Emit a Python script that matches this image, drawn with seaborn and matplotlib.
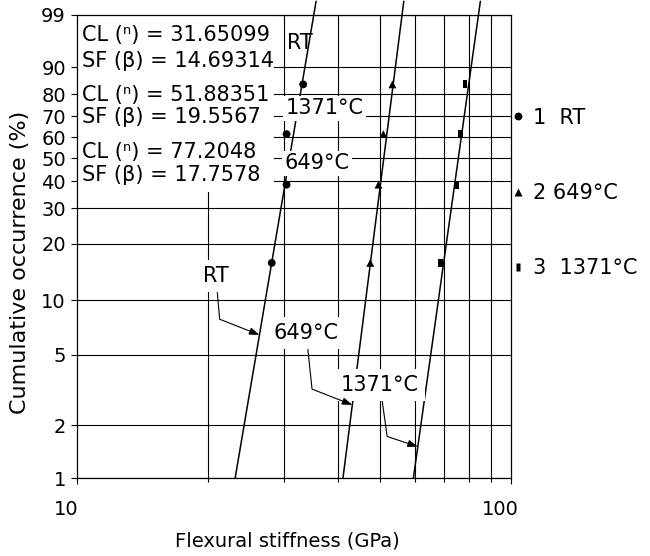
import numpy as np
import pandas as pd
import seaborn as sns
import matplotlib.pyplot as plt
from matplotlib.patches import Rectangle
from matplotlib.transforms import ScaledTranslation

sns.set_style('ticks')
plt.rcParams['font.family'] = ['DejaVu Sans']
plt.rcParams['text.color'] = 'black'
plt.rcParams['axes.labelcolor'] = 'black'

# Weibull fit parameters printed on the chart
legend_labels = ['1  RT', '2 649°C', '3  1371°C']
char_life = [31.65099, 51.88351, 77.2048]
shape_factor = [14.69314, 19.5567, 17.7578]

# measured points (median ranks, %)
ranks = [15.9, 38.6, 61.4, 84.1]
stiff_rt = [28.1, 30.4, 30.4, 33.2]
stiff_649 = [47.4, 49.5, 50.8, 53.3]
stiff_1371 = [68.7, 75.1, 76.4, 78.4]

# fitted lines are drawn between these occurrences
fit_range = [1, 99.6]

y_ticks = [1, 2, 5, 10, 20, 30, 40, 50, 60, 70, 80, 90, 99]
x_ticks = [10, 100]
x_minor = [20, 30, 40, 50, 60, 70, 80, 90]

# callout labels and where their arrows hit the fit line (% occurrence)
callouts = ['RT', '649°C', '1371°C']
callout_F = [6.46, 2.61, 1.51]

FS = 15


def weib(p):
  p = np.clip(np.asarray(p, dtype=float) / 100, 1e-9, 1 - 1e-9)
  return np.log(-np.log(1 - p))


def weib_inv(v):
  return 100 * (1 - np.exp(-np.exp(v)))


def fit_x(eta, beta, f):
  return eta * (-np.log(1 - np.asarray(f, dtype=float) / 100)) ** (1 / beta)


pts = pd.DataFrame({
  'stiffness': stiff_rt + stiff_649 + stiff_1371,
  'occurrence': ranks * 3,
  'series': np.repeat(legend_labels, len(ranks)),
})
fits = pd.concat([
  pd.DataFrame({'stiffness': fit_x(eta, beta, fit_range), 'occurrence': fit_range, 'series': lab})
  for lab, eta, beta in zip(legend_labels, char_life, shape_factor)
])

fig, ax = plt.subplots(figsize=(6.5, 5.56), dpi=100)
fig.subplots_adjust(left=77 / 650, right=511 / 650, top=1 - 15 / 556, bottom=1 - 478 / 556)

sns.lineplot(data=fits, x='stiffness', y='occurrence', units='series', estimator=None,
             sort=False, color='black', lw=1.1, clip_on=False, ax=ax, zorder=2, legend=False)
rect = [(-0.6, -1), (0.6, -1), (0.6, 1), (-0.6, 1)]
sns.scatterplot(data=pts, x='stiffness', y='occurrence', style='series',
                markers={legend_labels[0]: 'o', legend_labels[1]: '^', legend_labels[2]: rect},
                color='black', edgecolor='none', s=32, ax=ax, zorder=3)

ax.set_xscale('log')
ax.set_yscale('function', functions=(weib, weib_inv))
ax.set_xlim(10, 100)
ax.set_ylim(1, 99)
ax.set_yticks(y_ticks)
ax.set_yticklabels([str(t) for t in y_ticks])
ax.set_xticks(x_ticks)
ax.set_xticklabels([str(t) for t in x_ticks])
ax.set_xticks(x_minor, minor=True)
ax.set_xticklabels([], minor=True)
ax.yaxis.set_minor_locator(plt.NullLocator())

ax.set_axisbelow(True)
ax.grid(True, axis='y', which='major', color='black', lw=0.8)
ax.grid(True, axis='x', which='minor', color='black', lw=0.8)
for s in ax.spines.values():
  s.set_color('black')
  s.set_linewidth(0.9)
ax.tick_params(axis='y', labelsize=14, length=4, width=0.8, pad=4, colors='black')
ax.tick_params(axis='x', which='major', labelsize=14, length=4, width=0.8, pad=12, colors='black')
ax.tick_params(axis='x', which='minor', length=3, width=0.8, colors='black')
for lab in ax.get_xticklabels():
  lab.set_transform(lab.get_transform() + ScaledTranslation(-8 / 72, 0, fig.dpi_scale_trans))

ax.set_xlabel('Flexural stiffness (GPa)', fontsize=14)
ax.set_ylabel('Cumulative occurrence (%)', fontsize=16)
ax.xaxis.set_label_coords(0.485, -0.115)
ax.yaxis.set_label_coords(-0.108, 0.465)

# white block behind the fit parameters
ax.add_patch(Rectangle((0, 0.618), 0.455, 0.382, transform=ax.transAxes,
                       facecolor='white', edgecolor='none', zorder=0.8))
param_lines = []
for eta, beta in zip(char_life, shape_factor):
  param_lines += [f'CL (ⁿ) = {eta}', f'SF (β) = {beta}']
param_y = [0.957, 0.901, 0.827, 0.780, 0.704, 0.654]
for txt, y in zip(param_lines, param_y):
  ax.text(0.012, y, txt, transform=ax.transAxes, ha='left', va='center', fontsize=FS, zorder=4)

# labels at the top of the lines
ax.text(0.514, 0.94, 'RT', transform=ax.transAxes, ha='center', va='center', fontsize=FS, zorder=4)
ax.text(0.571, 0.799, '1371°C', transform=ax.transAxes, ha='center', va='center', fontsize=FS, zorder=4,
        bbox=dict(boxstyle='square,pad=0.12', fc='white', ec='none'))
ax.text(0.553, 0.68, '649°C', transform=ax.transAxes, ha='center', va='center', fontsize=FS, zorder=4,
        bbox=dict(boxstyle='square,pad=0.12', fc='white', ec='none'))

# callouts with leader arrows
callout_pos = [(0.320, 0.436), (0.528, 0.313), (0.698, 0.201)]
callout_ang = [(-85, -21.5), (-84, -21.4), (-82, -18.4)]
callout_z = [4, 4.2, 4.1]
for txt, f, eta, beta, pos, (a, b), z in zip(callouts, callout_F, char_life, shape_factor,
                                             callout_pos, callout_ang, callout_z):
  ax.annotate(txt, xy=(fit_x(eta, beta, f), f), xytext=pos, textcoords='axes fraction',
              ha='center', va='center', fontsize=FS, zorder=z,
              bbox=dict(boxstyle='square,pad=0.3', fc='white', ec='none'),
              arrowprops=dict(arrowstyle='-|>,head_length=0.5,head_width=0.18',
                              connectionstyle=f'angle,angleA={a},angleB={b},rad=0',
                              color='black', lw=0.8, shrinkA=0, shrinkB=0, mutation_scale=12))

sns.move_legend(ax, 'upper left', bbox_to_anchor=(1.003, 0.80), frameon=False, title=None,
                fontsize=FS, labelspacing=2.65, handlelength=0.5, handletextpad=0.5,
                borderpad=0, borderaxespad=0, labelcolor='black')

fig.savefig('out.png', dpi=100)
